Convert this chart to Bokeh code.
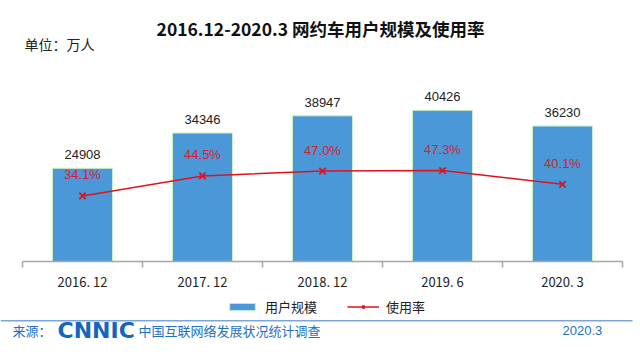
from bokeh.plotting import figure
from bokeh.models import (Range1d, FixedTicker, Legend, LegendItem,
                          Label, BoxAnnotation)
from bokeh.core.properties import value
from bokeh.embed import file_html
from bokeh.resources import INLINE

categories = ["2016. 12", "2017. 12", "2018. 12", "2019. 6", "2020. 3"]
users = [24908, 34346, 38947, 40426, 36230]
rate = [34.1, 44.5, 47.0, 47.3, 40.1]
rate_labels = ["34.1%", "44.5%", "47.0%", "47.3%", "40.1%"]
user_labels = [str(v) for v in users]

xs = [i + 0.5 for i in range(len(categories))]

CJK = "Noto Sans CJK SC"
W, H = 640, 354
# plot area (canvas px): x 22..622, baseline at y=261
k_users = 53750 / 201.0
k_rate = 104.5 / 201.0

p = figure(width=W, height=H, output_backend="svg", toolbar_location=None,
           x_range=Range1d(-22 / 120.0, (W - 22) / 120.0),
           y_range=Range1d(-(H - 261) * k_users, 261 * k_users),
           min_border=0, min_border_left=0, min_border_right=0,
           min_border_top=0, min_border_bottom=0, outline_line_color=None,
           background_fill_color="white", border_fill_color="white",
           y_axis_location=None)
p.extra_y_ranges = {"rate": Range1d(-(H - 261) * k_rate, 261 * k_rate)}
p.grid.visible = False

ax = p.xaxis[0]
ax.fixed_location = 0
ax.bounds = (0, len(categories))
ax.ticker = FixedTicker(ticks=xs, minor_ticks=list(range(len(categories) + 1)))
ax.major_label_overrides = {x: c for x, c in zip(xs, categories)}
ax.major_tick_line_color = None
ax.minor_tick_line_color = "#a6a6a6"
ax.minor_tick_in = 0
ax.minor_tick_out = 6
ax.axis_line_color = "#a6a6a6"
ax.axis_line_width = 1.5
ax.minor_tick_line_width = 1.5
ax.major_label_text_font = CJK
ax.major_label_text_font_size = "13px"
ax.major_label_text_color = "#222222"
ax.major_label_standoff = 4

bars = p.vbar(x=xs, top=users, width=0.5, fill_color="#4a98d8",
              line_color="#c8f0c0", line_width=1)
p.text(x=xs, y=users, text=user_labels, text_align="center",
       text_baseline="bottom", y_offset=-9, text_font=value("Liberation Sans"),
       text_font_size="13px", text_color="#222222")

ln = p.line(x=xs, y=rate, y_range_name="rate", line_color="#e3101c", line_width=1.5)
mk = p.scatter(x=xs, y=rate, y_range_name="rate", marker="x", size=9,
               line_color="#e3101c", line_width=1.8)
p.text(x=xs, y=rate, text=rate_labels, y_range_name="rate", text_align="center",
       text_baseline="middle", y_offset=-21, text_font=value("Liberation Sans"),
       text_font_size="13px", text_color="#d8202c")

legend = Legend(items=[LegendItem(label="用户规模", renderers=[bars]),
                       LegendItem(label="使用率", renderers=[ln, mk])],
                orientation="horizontal", location=(226, H - 316),
                label_text_font=CJK, label_text_font_size="13px",
                label_text_color="#222222", glyph_width=32, glyph_height=9,
                label_height=16, label_standoff=7,
                spacing=30, border_line_color=None, background_fill_alpha=0,
                margin=0, padding=0)
p.add_layout(legend)

def lab(x, y, text, font, size, color, align="left", style="normal"):
    p.add_layout(Label(x=x, y=H - y, x_units="screen", y_units="screen", text=text,
                       text_font=font, text_font_size=size, text_color=color,
                       text_align=align, text_baseline="middle",
                       text_font_style=style))

lab(320, 28, "2016.12-2020.3 网约车用户规模及使用率", CJK, "17.5px", "#111111",
    align="center", style="bold")
lab(24, 43, "单位：万人", CJK, "14px", "#222222")

p.add_layout(BoxAnnotation(left=0, right=632, bottom=H - 321, top=H - 319.5,
                           left_units="screen", right_units="screen",
                           bottom_units="screen", top_units="screen",
                           fill_color="#7aa6dc", fill_alpha=1, line_color=None))
lab(12, 330, "来源：", CJK, "13px", "#1f6fc8")
lab(57, 330, "CNNIC", "DejaVu Sans", "22px", "#1565c0", style="bold")
lab(138, 330, "中国互联网络发展状况统计调查", CJK, "13px", "#1f6fc8")
lab(562, 330, "2020.3", "Liberation Sans", "13px", "#1f6fc8")

open("out.html", "w").write(file_html(p, INLINE))
